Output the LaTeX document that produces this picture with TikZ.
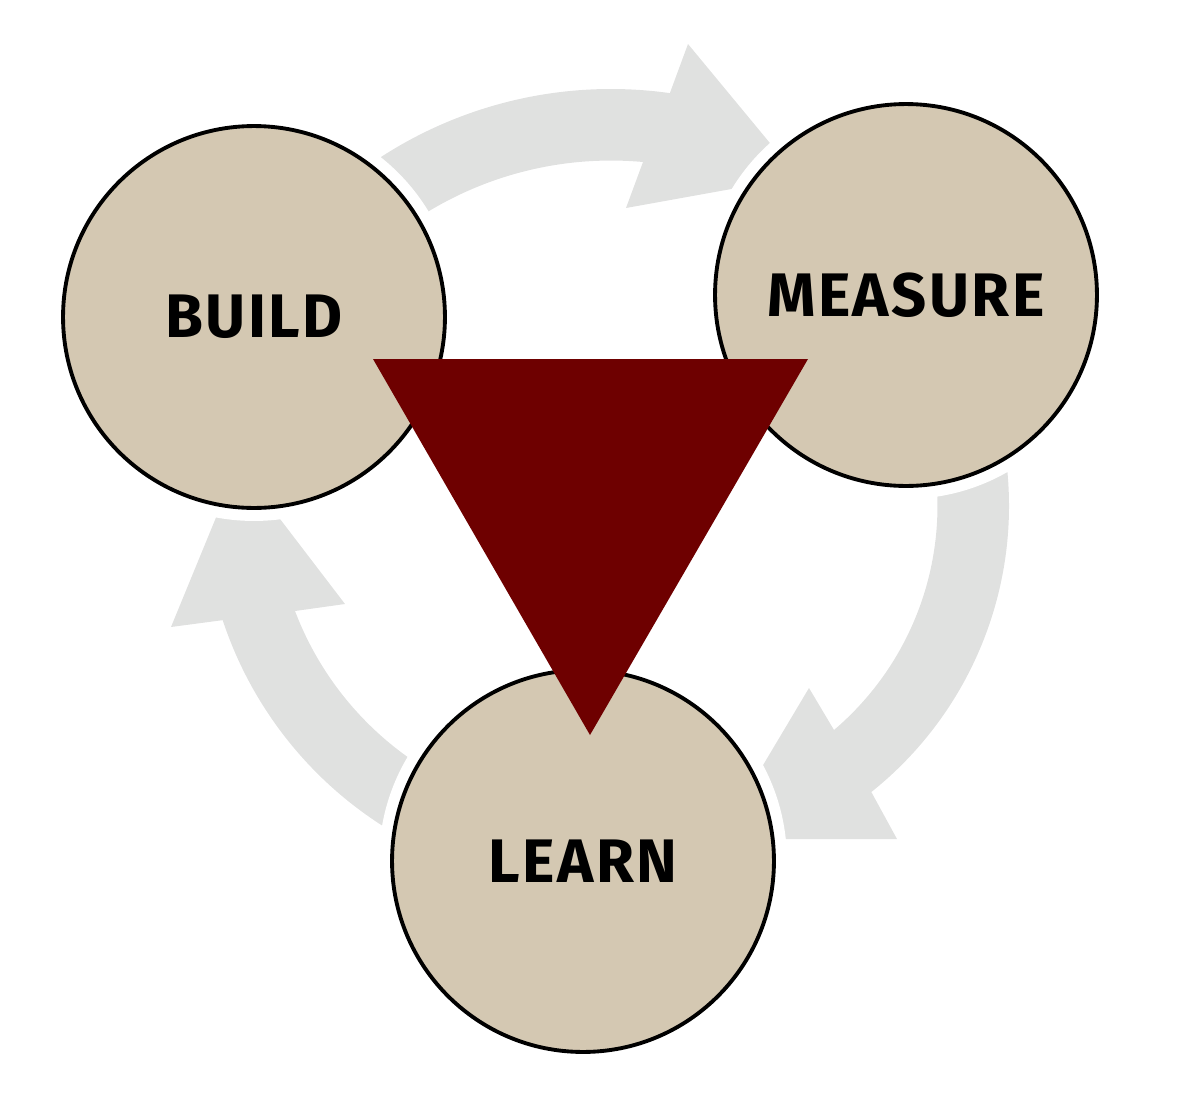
\documentclass[tikz,border=0pt]{standalone}
\usepackage{fontspec}
\setmainfont{Fira Sans}
\newfontfamily\stagefont[LetterSpace=4]{Fira Sans}
\definecolor{stagefill}{HTML}{D4C8B2}
\definecolor{flowgray}{HTML}{E0E1E0}
\definecolor{funnelred}{HTML}{6E0000}
\begin{document}
\begin{tikzpicture}[x=0.02cm, y=0.02cm,
  stage/.style={circle, draw=black, line width=2.2pt, fill=stagefill,
                minimum size=7.64cm, inner sep=0pt,
                font=\stagefont\fontsize{35}{40}\selectfont\bfseries,
                preaction={draw=white, line width=0.52cm}},
  flow/.style={fill=flowgray},
  funnel/.style={fill=funnelred}
]
  \useasboundingbox (0,0) rectangle (1181,-1106);
  % Centres des flèches courbes
  \coordinate (topc)   at (611,-512);
  \coordinate (rightc) at (643,-506);
  \coordinate (leftc)  at (592,-498);
  % Flèches grises (build -> measure -> learn -> build)
  \fill[flow] (topc) ++(127:423) arc[start angle=127, end angle=82, radius=423]
        -- (688,-44) -- (798,-177) -- (626,-208) -- (643,-162)
        arc[start angle=84.8, end angle=127, radius=353] -- cycle;
  \fill[flow] (rightc) ++(10:366) arc[start angle=10, end angle=-51.4, radius=366]
        -- (897,-839) -- (719,-839) -- (809,-688) -- (834,-730)
        arc[start angle=-49.6, end angle=10, radius=294] -- cycle;
  \fill[flow] (leftc) ++(242:389) arc[start angle=242, end angle=198.3, radius=389]
        -- (171,-627) -- (238,-464) -- (345,-604) -- (295,-611)
        arc[start angle=200.8, end angle=242, radius=318] -- cycle;
  % Trois étapes
  \node[stage] (build)   at (254,-317) {BUILD};
  \node[stage] (measure) at (906,-295) {MEASURE};
  \node[stage] (learn)   at (583,-861) {LEARN};
  % Triangle central
  \coordinate (tl) at (373,-359);
  \coordinate (tr) at (808,-359);
  \coordinate (tb) at (590,-735);
  \fill[funnel] (tl) -- (tr) -- (tb) -- cycle;
\end{tikzpicture}
\end{document}
